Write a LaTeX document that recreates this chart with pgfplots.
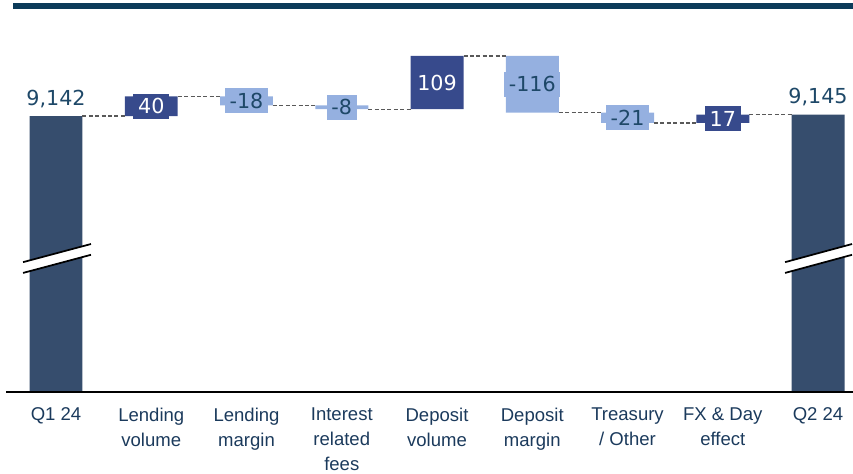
\documentclass[border=0pt]{standalone}
\usepackage{fontspec}
\setmainfont{Liberation Sans}
\newfontfamily\numfont{DejaVu Sans}
\usepackage{pgfplots}
\pgfplotsset{compat=1.18}
\definecolor{topnavy}{HTML}{0C3B59}
\definecolor{totbar}{HTML}{364D6D}
\definecolor{posbar}{HTML}{374A8C}
\definecolor{negbar}{HTML}{95B0E0}
\definecolor{txtnavy}{HTML}{1E4868}
\definecolor{lblnavy}{HTML}{1B3A5C}

\begin{document}
\begin{tikzpicture}[x=0.75pt,y=0.75pt]
\useasboundingbox (0,-82) rectangle (853,392);
\pgfplotsset{wf/.style={
  scale only axis,width=639.75pt,height=294pt,
  xmin=-0.588,xmax=8.367,ymin=8579,ymax=9379,
  axis line style={draw=none},tick style={draw=none},
  ytick=\empty,
}}
% bars (stacked on an invisible base)
\begin{axis}[wf,ybar stacked,bar width=0.556,xtick=\empty]
\addplot[draw=none,fill=none] coordinates {(0,0) (1,9142) (2,9164) (3,9156) (4,9156) (5,9149) (6,9128) (7,9128) (8,0)};
\addplot[draw=none,fill=totbar] coordinates {(0,9142) (1,0) (2,0) (3,0) (4,0) (5,0) (6,0) (7,0) (8,9145)};
\addplot[draw=none,fill=posbar] coordinates {(0,0) (1,40) (2,0) (3,0) (4,109) (5,0) (6,0) (7,17) (8,0)};
\addplot[draw=none,fill=negbar] coordinates {(0,0) (1,0) (2,18) (3,8) (4,0) (5,116) (6,21) (7,0) (8,0)};
\end{axis}
% labels, connectors, breaks
\begin{axis}[wf,clip=false,
  xtick={0,...,8},
  xticklabels={Q1 24,Lending\\volume,Lending\\margin,Interest\\related\\fees,Deposit\\volume,Deposit\\margin,Treasury\\/ Other,FX \& Day\\effect,Q2 24},
  xticklabel style={align=center,anchor=north,yshift=-8.5pt,text=lblnavy,font=\fontsize{13.9}{18.75}\selectfont},
]
\addplot[color=black!65,line width=1.15pt,dash pattern=on 3pt off 1.8pt,unbounded coords=jump] coordinates {
(0.278,9142) (0.722,9142) (1,nan)
(1.278,9182) (1.722,9182) (2,nan)
(2.278,9164) (2.722,9164) (3,nan)
(3.278,9156) (3.722,9156) (4,nan)
(4.278,9265) (4.722,9265) (5,nan)
(5.278,9149) (5.722,9149) (6,nan)
(6.278,9128) (6.722,9128) (7,nan)
(7.278,9145) (7.722,9145)};
% break marks
\fill[white] (axis cs:-0.346,8822) -- (axis cs:0.367,8859) -- (axis cs:0.367,8881) -- (axis cs:-0.346,8844) -- cycle;
\draw[black,line width=1.3pt] (axis cs:-0.346,8822) -- (axis cs:0.367,8859);
\draw[black,line width=1.3pt] (axis cs:-0.346,8844) -- (axis cs:0.367,8881);
\fill[white] (axis cs:7.654,8822) -- (axis cs:8.357,8859) -- (axis cs:8.357,8881) -- (axis cs:7.654,8844) -- cycle;
\draw[black,line width=1.3pt] (axis cs:7.654,8822) -- (axis cs:8.357,8859);
\draw[black,line width=1.3pt] (axis cs:7.654,8844) -- (axis cs:8.357,8881);
% positive step labels
\addplot[draw=none,nodes near coords,point meta=explicit symbolic,
  nodes near coords style={anchor=center,fill=posbar,text=white,inner xsep=3.5pt,inner ysep=0pt,minimum height=18.75pt,font=\numfont\fontsize{15.5}{18}\selectfont}]
  coordinates {(1,9162)[40] (4,9210.5)[109] (7,9136.5)[17]};
% negative step labels
\addplot[draw=none,nodes near coords,point meta=explicit symbolic,
  nodes near coords style={anchor=center,fill=negbar,text=txtnavy,inner xsep=3.5pt,inner ysep=0pt,minimum height=18.75pt,font=\numfont\fontsize{15.5}{18}\selectfont}]
  coordinates {(2,9173)[-18] (3,9160)[-8] (5,9207)[-116] (6,9138.5)[-21]};
% totals
\addplot[draw=none,nodes near coords,point meta=explicit symbolic,
  nodes near coords style={anchor=south,text=txtnavy,inner sep=0pt,yshift=6pt,font=\numfont\fontsize{15.5}{18}\selectfont}]
  coordinates {(0,9142)[{9,142}] (8,9145)[{9,145}]};
\end{axis}
\draw[black,line width=1.5pt] (6,0) -- (853,0);
\draw[topnavy,line width=4.3pt] (13,386) -- (853,386);
\end{tikzpicture}
\end{document}
